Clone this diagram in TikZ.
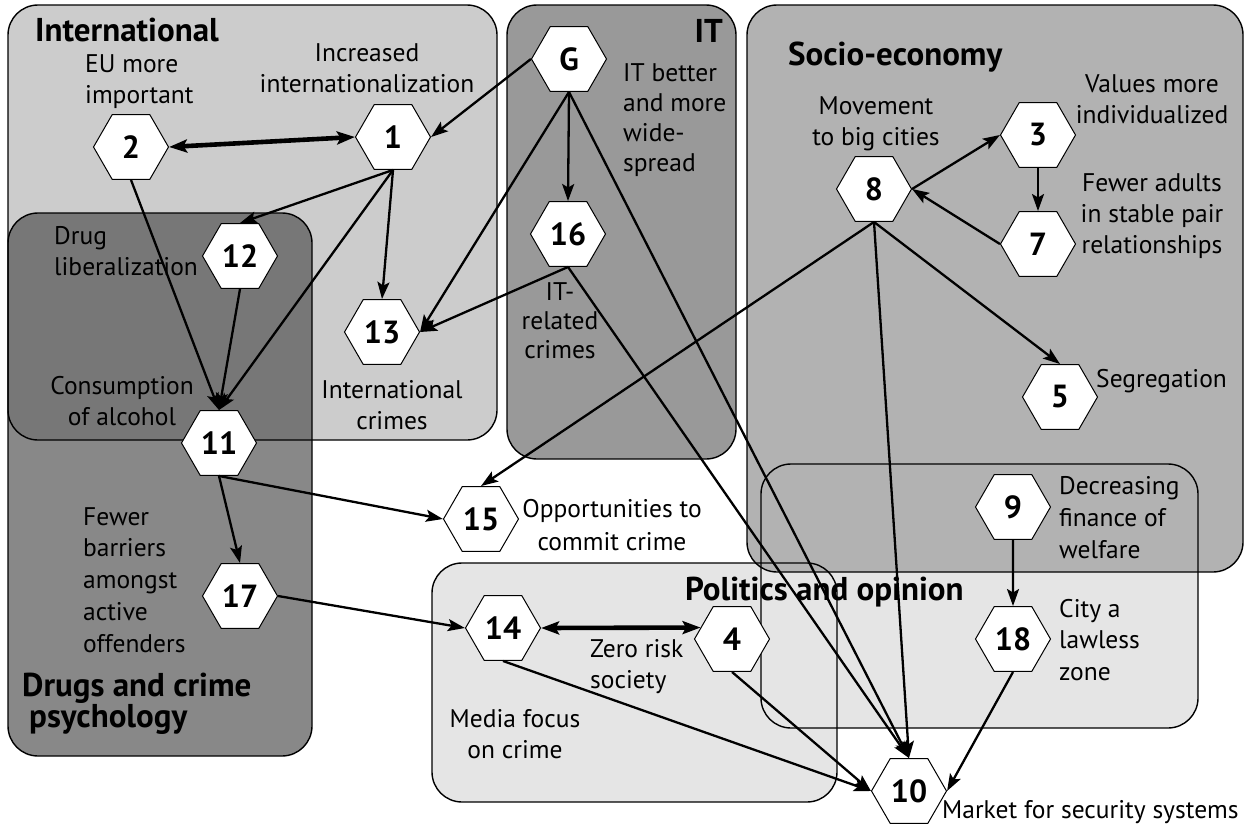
\documentclass[tikz,border=0pt]{standalone}
\usepackage{fontspec}
\setmainfont{PT Sans}
\usetikzlibrary{shapes.geometric,arrows.meta}

\definecolor{intlfill}{gray}{0.80}
\definecolor{itfill}{gray}{0.60}
\definecolor{sociofill}{gray}{0.70}
\definecolor{polfill}{gray}{0.90}
\definecolor{drugfill}{gray}{0.32}

\begin{document}
\begin{tikzpicture}[x=1pt,y=-1pt,
  hexnode/.style={regular polygon, regular polygon sides=6, minimum size=75pt,
    inner sep=0pt, draw, fill=white, line width=1pt,
    font=\fontsize{32}{32}\selectfont\bfseries},
  area/.style={rounded corners=30pt},
  arealine/.style={rounded corners=30pt, draw, line width=1.4pt},
  lbl/.style={font=\fontsize{25.5}{31}\selectfont, inner sep=0pt},
  areatitle/.style={font=\fontsize{33}{31}\selectfont\bfseries, inner sep=0pt, align=left},
  tip/.tip={Stealth[length=17pt,width=12pt,inset=3.5pt]},
  bigtip/.tip={Stealth[length=18pt,width=13pt,inset=3.5pt]},
  arr/.style={-tip, line width=2.3pt},
  darr/.style={bigtip-bigtip, line width=4.6pt},
]
\useasboundingbox (0,0) rectangle (1245,827);

% area fills
\fill[area, intlfill] (8,5) rectangle (497,440);
\fill[area, itfill] (507,5) rectangle (736,459);
\fill[area, polfill] (761,464) rectangle (1198,728);
\fill[area, polfill] (432,563) rectangle (837,802);
\fill[area, sociofill] (747,5) rectangle (1243,572);
\fill[area, drugfill, opacity=0.69] (8,213) rectangle (312,756);

% area outlines
\draw[arealine] (8,5) rectangle (497,440);
\draw[arealine] (507,5) rectangle (736,459);
\draw[arealine] (761,464) rectangle (1198,728);
\draw[arealine] (432,563) rectangle (837,802);
\draw[arealine] (747,5) rectangle (1243,572);
\draw[arealine] (8,213) rectangle (312,756);

% area titles (base = baseline of the last line)
\node[areatitle, anchor=base west] (tintl) at (35,41) {International};
\node[areatitle, anchor=base east] (tit) at (723,42) {IT};
\node[areatitle, anchor=base west] (tsocio) at (788,65) {Socio-economy};
\node[areatitle, anchor=base west] (tdrug) at (22,727) {Drugs and crime\\\hspace*{7pt}psychology};
\node[areatitle, anchor=base west] (tpol) at (685,600) {Politics and opinion};

% factor labels
\node[lbl, align=left, anchor=base west] (l2) at (85,103) {EU more\\important};
\node[lbl, align=center, anchor=base] (l1) at (367,92) {Increased\\internationalization};
\node[lbl, align=left, anchor=base west, font=\fontsize{25.5}{30}\selectfont] (lG) at (623,171) {IT better\\and more\\wide-\\spread};
\node[lbl, align=center, anchor=base, font=\fontsize{25.5}{29}\selectfont] (l16) at (560,358) {IT-\\related\\crimes};
\node[lbl, align=center, anchor=base] (l8) at (876,145) {Movement\\to big cities};
\node[lbl, align=center, anchor=base] (l3) at (1152,123) {Values more\\individualized};
\node[lbl, align=center, anchor=base] (l7) at (1152,253) {Fewer adults\\in stable pair\\relationships};
\node[lbl, anchor=base west] (l5) at (1096,387) {Segregation};
\node[lbl, align=left, anchor=base west] (l12) at (54,275) {Drug\\liberalization};
\node[lbl, align=center, anchor=base] (l11) at (122,425) {Consumption\\of alcohol};
\node[lbl, align=center, anchor=base] (l13) at (392,429) {International\\crimes};
\node[lbl, align=left, anchor=base west, font=\fontsize{25.5}{31.7}\selectfont] (l17) at (83,652) {Fewer\\barriers\\amongst\\active\\offenders};
\node[lbl, align=center, anchor=base, font=\fontsize{25.5}{33}\selectfont] (l15) at (612,550) {Opportunities to\\commit crime};
\node[lbl, align=left, anchor=base west] (l4) at (590,688) {Zero risk\\society};
\node[lbl, align=center, anchor=base] (l14) at (515,758) {Media focus\\on crime};
\node[lbl, align=left, anchor=base west, font=\fontsize{25.5}{32}\selectfont] (l9) at (1059,558) {Decreasing\\finance of\\welfare};
\node[lbl, align=left, anchor=base west, font=\fontsize{25.5}{31.5}\selectfont] (l18) at (1059,680) {City a\\lawless\\zone};
\node[lbl, anchor=base west] (l10) at (942,818) {Market for security systems};

% factors
\node[hexnode] (n1) at (393,137) {1};
\node[hexnode] (n2) at (131,147) {2};
\node[hexnode] (nG) at (569,59) {G};
\node[hexnode] (n16) at (568,234) {16};
\node[hexnode] (n12) at (240,256) {12};
\node[hexnode] (n13) at (382,332) {13};
\node[hexnode] (n11) at (219,443) {11};
\node[hexnode] (n15) at (481,519) {15};
\node[hexnode] (n17) at (240,596) {17};
\node[hexnode] (n14) at (503,628) {14};
\node[hexnode] (n4) at (732,639) {4};
\node[hexnode] (n9) at (1013,507) {9};
\node[hexnode] (n18) at (1013,639) {18};
\node[hexnode] (n10) at (909,791) {10};
\node[hexnode] (n8) at (874,189) {8};
\node[hexnode] (n3) at (1038,135) {3};
\node[hexnode] (n7) at (1038,244) {7};
\node[hexnode] (n5) at (1060,397) {5};

% influences
\draw[darr] (n2.east) -- (n1.west);
\draw[arr] (nG.west) -- (n1.east);
\draw[arr] (n1.south) -- (n12.north);
\draw[arr] (n1.south) -- (n11.north);
\draw[arr] (n1.south) -- (n13.north);
\draw[arr] (n2.south) -- (n11.north);
\draw[arr] (n12.south) -- (n11.north);
\draw[arr] (nG.south) -- (n13.east);
\draw[arr] (n16.south) -- (n13.east);
\draw[arr] (nG.south) -- (n16.north);
\draw[arr] (nG.south) -- (n10.north);
\draw[arr] (n16.south) -- (n10.north);
\draw[arr] (n8.east) -- (n3.west);
\draw[arr] (n3.south) -- (n7.north);
\draw[arr] (n7.west) -- (n8.east);
\draw[arr] (n8.south) -- (n5.north);
\draw[arr] (n8.south) -- (n10.north);
\draw[arr] (n8.south) -- (n15.north);
\draw[arr] (n11.south) -- (n15.west);
\draw[arr] (n11.south) -- (n17.north);
\draw[arr] (n17.east) -- (n14.west);
\draw[darr] (n14.east) -- (n4.160);
\draw[arr] (n14.south) -- (n10.west);
\draw[arr] (n4.south) -- (n10.west);
\draw[arr] (n9.south) -- (n18.north);
\draw[arr] (n18.south) -- (n10.east);
\end{tikzpicture}
\end{document}
